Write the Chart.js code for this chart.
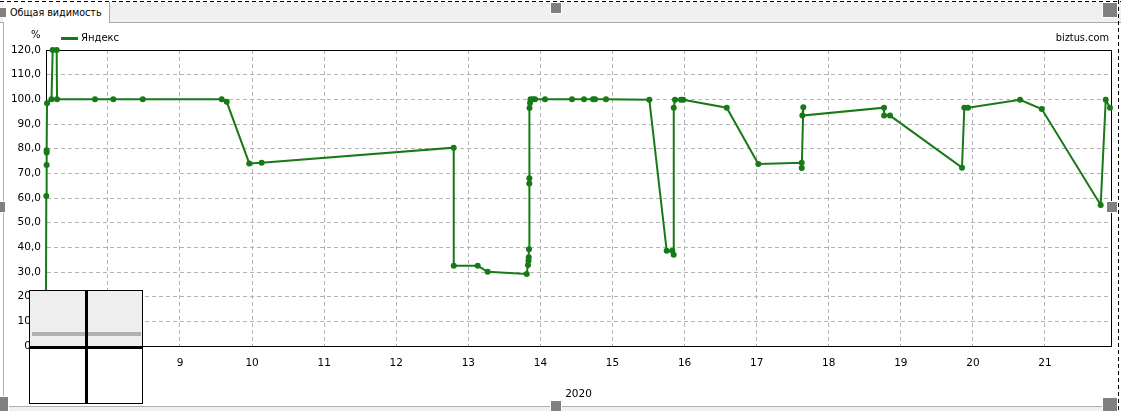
<!DOCTYPE html>
<html>
<head>
<meta charset="utf-8">
<script src="https://cdn.jsdelivr.net/npm/chart.js@4.4.1/dist/chart.umd.min.js"></script>
<style>
  html, body { margin: 0; padding: 0; background: #fff; }
  body { width: 1121px; height: 411px; position: relative; overflow: hidden; font-family: "DejaVu Sans", sans-serif; }
  #c { position: absolute; left: 0; top: 0; }
  .abs { position: absolute; }
  .handle { position: absolute; background: #808080; border: 1px solid #fff; box-sizing: border-box; }
  .txt { position: absolute; color: #000; white-space: nowrap; line-height: 1; }
</style>
</head>
<body>
<canvas id="c" width="1121" height="411"></canvas>

<!-- header bar -->
<div class="abs" style="left:0;top:2px;width:1121px;height:20px;background:#f0f0f0;border-bottom:1px solid #a9a9a9;"></div>
<div class="abs" style="left:3px;top:2px;width:106px;height:21px;background:#fff;border-right:1px solid #a9a9a9;"></div>
<div class="txt" style="left:10px;top:8px;font-size:9.6px;">Общая видимость</div>
<!-- dashed outline -->
<div class="abs" style="left:0;top:1px;width:1121px;height:1px;background:repeating-linear-gradient(to right,#000 0 4px,transparent 4px 7px);"></div>
<div class="abs" style="left:1118px;top:0;width:1px;height:411px;background:repeating-linear-gradient(to bottom,#000 0 4px,transparent 4px 7px);"></div>
<!-- left and bottom frame -->
<div class="abs" style="left:3px;top:22px;width:1px;height:385px;background:#b0b0b0;"></div>
<div class="abs" style="left:3px;top:406px;width:1115px;height:5px;background:#f0f0f0;border-top:1px solid #b0b0b0;box-sizing:border-box;"></div>

<!-- labels -->
<div class="txt" style="left:31px;top:30px;font-size:10px;">%</div>
<div class="abs" style="left:61px;top:37px;width:17px;height:3px;background:#177a17;"></div>
<div class="txt" style="left:81px;top:33px;font-size:10px;">Яндекс</div>
<div class="txt" style="right:12px;top:33px;font-size:9.8px;">biztus.com</div>

<!-- overlay box bottom-left -->
<div class="abs" style="left:29px;top:290px;width:114px;height:114px;border:1px solid #000;box-sizing:border-box;background:#fff;z-index:2;">
  <div class="abs" style="left:0;top:0;width:112px;height:56px;background:#eeeeee;"></div>
  <div class="abs" style="left:2px;top:41px;width:109px;height:4px;background:#b0b0b0;"></div>
  <div class="abs" style="left:55px;top:0;width:3px;height:112px;background:#000;"></div>
  <div class="abs" style="left:0;top:55px;width:112px;height:3px;background:#000;"></div>
</div>

<!-- handles -->
<div class="handle" style="left:-3px;top:7px;width:10px;height:11px;"></div>
<div class="handle" style="left:550px;top:2px;width:12px;height:12px;"></div>
<div class="handle" style="left:1102px;top:2px;width:16px;height:16px;"></div>
<div class="handle" style="left:-6px;top:201px;width:12px;height:12px;"></div>
<div class="handle" style="left:1106px;top:201px;width:12px;height:12px;"></div>
<div class="handle" style="left:-7px;top:396px;width:16px;height:16px;"></div>
<div class="handle" style="left:550px;top:400px;width:12px;height:12px;"></div>
<div class="handle" style="left:1102px;top:397px;width:16px;height:16px;"></div>

<script>
// x positions (axis units, labelled 8..21), visibility %
const xPos = [
  7.140, 7.145, 7.150, 7.150, 7.150, 7.155, 7.217, 7.234, 7.289, 7.294,
  7.821, 8.075, 8.483, 9.579, 9.648, 9.961, 10.133, 12.797, 12.798, 13.130,
  13.269, 13.810, 13.828, 13.835, 13.838, 13.842, 13.846, 13.847, 13.849, 13.856,
  13.863, 13.897, 13.925, 14.064, 14.438, 14.605, 14.730, 14.758, 14.910, 15.511,
  15.752, 15.830, 15.849, 15.850, 15.867, 15.950, 15.982, 16.585, 17.023, 17.625,
  17.626, 17.647, 17.634, 18.767, 18.768, 18.850, 19.849, 19.881, 19.932, 20.654,
  20.955, 21.773, 21.843, 21.902
];
const visibility = [
  10.0, 60.8, 73.4, 78.4, 79.4, 98.4, 100.0, 120.0, 120.0, 100.0,
  100.0, 100.0, 100.0, 100.0, 99.0, 74.0, 74.3, 80.4, 32.5, 32.5,
  30.1, 29.2, 32.8, 34.6, 36.0, 39.2, 65.9, 68.0, 96.5, 98.5,
  100.0, 100.0, 100.0, 100.0, 100.0, 100.0, 100.0, 100.0, 100.0, 99.8,
  38.6, 38.6, 37.0, 96.6, 99.8, 99.8, 99.8, 96.6, 73.8, 74.3,
  72.2, 96.8, 93.4, 96.6, 93.4, 93.4, 72.3, 96.6, 96.6, 99.8,
  96.1, 57.2, 99.8, 96.6
];
const xRange = [7.141, 21.916];
const yRange = [0, 120];
const seriesName = 'Яндекс';
const xTitle = '2020';

const green = '#177a17';
const font = { family: 'DejaVu Sans', size: 10.5 };

const framePlugin = {
  id: 'frame',
  beforeDatasetsDraw(chart) {
    const { ctx, chartArea: a } = chart;
    ctx.save();
    ctx.strokeStyle = '#000';
    ctx.lineWidth = 1;
    ctx.setLineDash([]);
    ctx.strokeRect(Math.round(a.left) + 0.5, Math.round(a.top) + 0.5,
                   Math.round(a.right - a.left), Math.round(a.bottom - a.top));
    ctx.restore();
  }
};

new Chart(document.getElementById('c'), {
  type: 'line',
  data: {
    datasets: [{
      label: seriesName,
      data: xPos.map((x, i) => ({ x: x, y: visibility[i] })),
      borderColor: green,
      backgroundColor: green,
      pointBackgroundColor: green,
      pointBorderColor: green,
      borderWidth: 2,
      pointRadius: 3,
      pointBorderWidth: 0,
      tension: 0,
      fill: false,
      clip: false
    }]
  },
  options: {
    responsive: false,
    animation: false,
    devicePixelRatio: 1,
    layout: { padding: { left: 0, top: 50, right: 10, bottom: 9 } },
    plugins: { legend: { display: false }, tooltip: { enabled: false } },
    scales: {
      x: {
        type: 'linear',
        min: xRange[0], max: xRange[1],
        afterFit(s) { s.height = 56; },
        ticks: {
          stepSize: 1, includeBounds: false, padding: 11, color: '#000', font: font,
          maxRotation: 0, autoSkip: false,
          callback: v => Number.isInteger(v) ? String(v) : ''
        },
        grid: { color: '#b4b4b4', drawTicks: false },
        border: { color: '#000', dash: [4, 3] },
        title: { display: true, text: xTitle, color: '#000', font: font, padding: { top: 0, bottom: 1 } }
      },
      y: {
        min: yRange[0], max: yRange[1],
        afterFit(s) { s.width = 46; },
        ticks: {
          stepSize: 10, padding: 5, color: '#000', font: font,
          callback: v => v.toFixed(1).replace('.', ',')
        },
        grid: { color: '#b4b4b4', drawTicks: false },
        border: { color: '#000', dash: [4, 3] }
      }
    }
  },
  plugins: [framePlugin]
});
</script>
</body>
</html>
